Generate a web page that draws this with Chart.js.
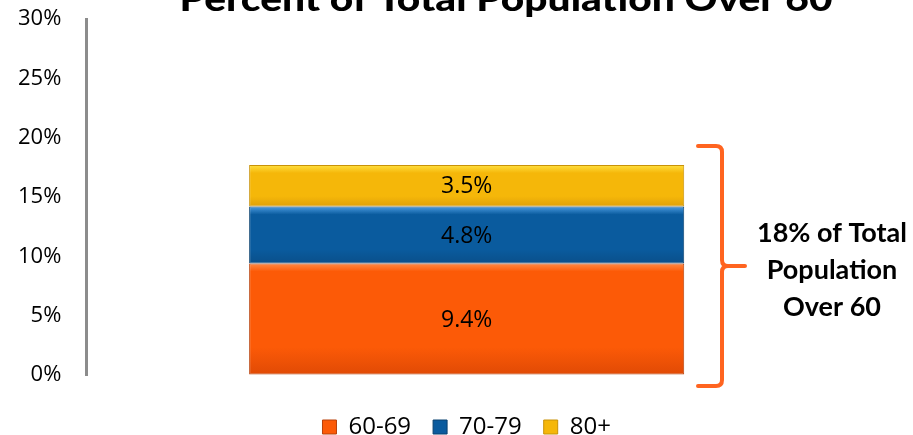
<!DOCTYPE html>
<html>
<head>
<meta charset="utf-8">
<script src="https://cdn.jsdelivr.net/npm/chart.js@4"></script>
<style>
  html, body { margin: 0; padding: 0; background: #fff; }
  #wrap { width: 913px; height: 435px; position: relative; }
</style>
</head>
<body>
<div id="wrap"><canvas id="pop_chart"></canvas></div>
<script>
const categories = ['Population'];
const ageGroups = ['60-69', '70-79', '80+'];
const age6069 = [9.4];
const age7079 = [4.8];
const age80 = [3.5];
const yTicks = [0, 5, 10, 15, 20, 25, 30];
const titleText = 'Percent of Total Population Over 60';
const noteLines = ['18% of Total', 'Population', 'Over 60'];

const colors = ['#FC5A07', '#0A5B9E', '#F5B709'];
const lights = ['#FF8A45', '#4A9BE0', '#FFE040'];
const darks = ['#E04A05', '#0A4F8A', '#E0A008'];
const edges = ['#B8400A', '#0B4270', '#C89208'];
const FONT = '"Open Sans", Lato, sans-serif';
const series = [age6069, age7079, age80];

// bevel-ish vertical gradient per segment
function segFill(ctx) {
  const chart = ctx.chart;
  const i = ctx.datasetIndex;
  if (!chart.chartArea || !chart.scales.y) return colors[i];
  let start = 0;
  for (let k = 0; k < i; k++) start += series[k][0];
  const y = chart.scales.y;
  const yTop = y.getPixelForValue(start + series[i][0]);
  const yBot = y.getPixelForValue(start);
  const h = yBot - yTop;
  if (!isFinite(h) || h <= 0) return colors[i];
  const g = chart.ctx.createLinearGradient(0, yTop, 0, yBot);
  g.addColorStop(0, lights[i]);
  g.addColorStop(Math.min(0.4, 8 / h), colors[i]);
  g.addColorStop(0.75, colors[i]);
  g.addColorStop(1, darks[i]);
  return g;
}

// labels inside segments, title, brace + note
const extras = {
  id: 'extras',
  afterDatasetsDraw(chart) {
    const ctx = chart.ctx;
    ctx.save();
    ctx.fillStyle = '#000';
    ctx.font = '23px ' + FONT;
    ctx.textAlign = 'center';
    ctx.textBaseline = 'middle';
    chart.data.datasets.forEach((ds, i) => {
      const bar = chart.getDatasetMeta(i).data[0];
      ctx.fillText(ds.data[0].toFixed(1) + '%', bar.x, (bar.y + bar.base) / 2 + 1);
    });

    // title (cut off at top like the original)
    ctx.font = '900 34px Lato, sans-serif';
    let w = ctx.measureText(titleText).width;
    ctx.save();
    ctx.translate(506, 11);
    ctx.scale(653 / w, 1);
    ctx.textBaseline = 'alphabetic';
    ctx.fillText(titleText, 0, 0);
    ctx.restore();

    // brace spanning the whole bar
    const y = chart.scales.y;
    const total = age6069[0] + age7079[0] + age80[0];
    const top = y.getPixelForValue(total) - 19;
    const bot = y.getPixelForValue(0) + 11;
    const mid = (top + bot) / 2;
    const xl = 698, xv = 722, xt = 745, r = 6;
    ctx.strokeStyle = '#FF6420';
    ctx.lineWidth = 4;
    ctx.lineCap = 'round';
    ctx.beginPath();
    ctx.moveTo(xl, top);
    ctx.lineTo(xv - r, top);
    ctx.quadraticCurveTo(xv, top, xv, top + r);
    ctx.lineTo(xv, mid - r);
    ctx.quadraticCurveTo(xv, mid, xv + r, mid);
    ctx.lineTo(xt, mid);
    ctx.moveTo(xv + r, mid);
    ctx.quadraticCurveTo(xv, mid, xv, mid + r);
    ctx.lineTo(xv, bot - r);
    ctx.quadraticCurveTo(xv, bot, xv - r, bot);
    ctx.lineTo(xl, bot);
    ctx.stroke();

    ctx.fillStyle = '#000';
    ctx.font = 'bold 27px Lato, sans-serif';
    ctx.textAlign = 'center';
    ctx.textBaseline = 'middle';
    noteLines.forEach((t, i) => ctx.fillText(t, 832, 233 + i * 37));
    ctx.restore();
  }
};

const datasets = series.map((d, i) => ({
  label: ageGroups[i],
  data: d,
  backgroundColor: segFill,
  borderColor: edges[i],
  borderWidth: 1,
  borderSkipped: false,
  barPercentage: 0.572,
  categoryPercentage: 1
}));

new Chart(document.getElementById('pop_chart'), {
  type: 'bar',
  data: { labels: categories, datasets: datasets },
  options: {
    responsive: true,
    maintainAspectRatio: false,
    animation: false,
    layout: { padding: { left: 12, right: 66, top: 0, bottom: -14 } },
    plugins: {
      title: { display: false },
      tooltip: { enabled: false },
      legend: {
        position: 'bottom',
        fullSize: false,
        labels: {
          color: '#000',
          font: { family: FONT, size: 24 },
          boxWidth: 14, boxHeight: 14,
          padding: 22,
          generateLabels(chart) {
            return chart.data.datasets.map((ds, i) => ({
              text: ds.label,
              fillStyle: colors[i],
              strokeStyle: edges[i],
              lineWidth: 1,
              datasetIndex: i,
              hidden: false
            }));
          }
        }
      }
    },
    scales: {
      x: {
        stacked: true,
        grid: { display: false },
        border: { display: false },
        ticks: { display: false },
        afterFit(axis) { axis.height = 18; }
      },
      y: {
        stacked: true,
        min: 0, max: 30,
        afterBuildTicks(axis) { axis.ticks = yTicks.map(v => ({ value: v })); },
        grid: { display: true, drawOnChartArea: false, drawTicks: true, tickLength: 19, tickColor: 'rgba(0,0,0,0)' },
        border: { display: true, color: '#8C8C8C', width: 3 },
        ticks: {
          color: '#000',
          padding: 6,
          font: { family: FONT, size: 22 },
          callback: v => v + '%'
        }
      }
    }
  },
  plugins: [extras]
});
</script>
</body>
</html>
